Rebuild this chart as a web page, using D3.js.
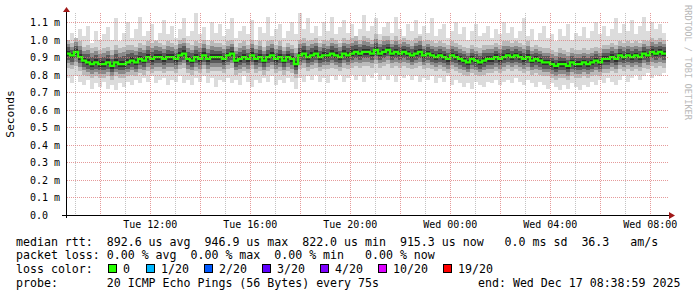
<!DOCTYPE html>
<html><head><meta charset="utf-8">
<script src="https://cdn.jsdelivr.net/npm/d3@7"></script>
<style>
html,body{margin:0;padding:0;background:#fff;}
svg{display:block;}
text{font-family:"DejaVu Sans Mono",monospace;}
</style></head>
<body>
<svg id="chart" width="697" height="297"></svg>
<script>
// ---------- DATA ----------
const startTime = new Date(2025, 11, 16, 8, 38, 59);
const endTime = new Date(2025, 11, 17, 8, 38, 59);
const yTickValues = [0, 0.1, 0.2, 0.3, 0.4, 0.5, 0.6, 0.7, 0.8, 0.9, 1.0, 1.1];
const yTickLabels = ["0.0", "0.1 m", "0.2 m", "0.3 m", "0.4 m", "0.5 m", "0.6 m", "0.7 m", "0.8 m", "0.9 m", "1.0 m", "1.1 m"];
// median rtt (ms) per consolidated step
const median = [
0.92,0.91,0.93,0.90, 0.88,0.87,0.86,0.87,0.86, 0.86,0.87,0.85,0.87,0.86,0.86,0.87,
0.88,0.87,0.89,0.88,0.90, 0.89,0.90,0.90,0.89,0.90, 0.90,0.89,0.91,0.92,0.89,
0.88,0.90,0.89,0.91,0.89,0.90,0.90, 0.90,0.89,0.91,0.92,0.88,0.89,0.90,0.89,
0.91,0.89,0.90,0.88,0.90,0.91,0.89,0.90,0.88,0.90,0.89,0.86,
0.91,0.92,0.90,0.91,0.92,0.90,0.91,0.91, 0.92,0.91,0.90,0.92,0.91,0.92,0.93,0.92,0.93,
0.93,0.92,0.94,0.92,0.93,0.94,0.92,0.93,0.92, 0.93,0.92,0.91,0.92,0.93,0.91,0.92,
0.91,0.90,0.91,0.90,0.89,0.91,0.90, 0.89,0.88,0.87,0.89,0.88,0.87,0.88,0.89,
0.89,0.90,0.89,0.90,0.91,0.90,0.91, 0.90,0.89,0.90,0.88,0.89,0.88,0.87,
0.87,0.86,0.85,0.86,0.86,0.85,0.87,0.86, 0.86,0.87,0.86,0.87,0.88,0.87,0.89,
0.89,0.90,0.89,0.91,0.90,0.91,0.90,0.91, 0.90,0.92,0.91,0.93,0.92,0.93,0.92
];
// slowest ping per step (ms)
const pingMax = [
1.00,1.04,0.99,1.06,1.02,1.08,0.98,1.05,1.00,1.03,
1.07,1.00,1.12,0.99,1.04,1.10,1.01,1.06,1.13,1.02,
1.05,1.09,1.00,1.04,1.11,1.03,1.08,1.01,1.06,1.12,
1.02,1.05,1.15,1.03,1.07,1.00,1.10,1.04,1.09,1.02,
1.06,1.12,1.01,1.05,1.08,1.03,1.11,1.00,1.07,1.04,
1.13,1.02,1.06,1.09,1.01,1.05,1.10,1.03,1.15,1.06,
1.12,1.04,1.08,1.02,1.10,1.05,1.13,1.03,1.07,1.11,
1.04,1.09,1.02,1.06,1.14,1.05,1.08,1.12,1.03,1.07,
1.10,1.04,1.13,1.06,1.02,1.09,1.05,1.11,1.03,1.08,
1.04,1.12,1.02,1.06,1.09,1.01,1.05,1.10,1.03,1.07,
1.00,1.05,1.09,1.02,1.04,1.08,1.01,1.06,1.03,1.10,
1.04,1.07,1.01,1.05,1.12,1.02,1.06,1.00,1.04,1.08,
1.01,1.03,0.99,1.06,1.02,1.09,1.00,1.04,1.02,1.07,
1.01,1.05,1.10,1.03,1.08,1.02,1.06,1.12,1.04,1.09,
1.05,1.11,1.03,1.08,1.13,1.05,1.10,1.06,1.09,1.04
];
// upper smoke band (ms)
const pingHigh = [
1.00,0.98,1.01,0.99,0.96,0.97,0.95,0.96,0.94,0.95,
0.96,0.94,0.97,0.95,0.96,0.97,0.97,0.96,0.98,0.97,
0.99,0.98,0.99,0.98,0.97,0.99,0.98,0.97,1.00,1.01,
0.98,0.97,0.99,0.98,1.00,0.97,0.99,0.98,0.98,0.97,
0.99,1.00,0.96,0.98,0.99,0.97,1.00,0.97,0.99,0.96,
0.99,1.00,0.97,0.99,0.96,0.98,0.97,0.95,1.00,1.01,
0.99,1.00,1.01,0.98,1.00,0.99,1.01,1.00,0.98,1.01,
1.00,1.01,1.02,1.00,1.02,1.01,1.00,1.03,1.00,1.02,
1.02,1.00,1.02,1.00,1.01,1.00,0.99,1.01,1.02,0.99,
1.00,0.99,0.98,0.99,0.98,0.97,0.99,0.98,0.97,0.96,
0.95,0.97,0.96,0.95,0.97,0.97,0.97,0.98,0.97,0.99,
0.99,0.98,0.99,0.98,0.97,0.99,0.96,0.97,0.96,0.95,
0.95,0.94,0.93,0.95,0.94,0.93,0.95,0.94,0.94,0.95,
0.94,0.95,0.96,0.95,0.97,0.97,0.98,0.97,0.99,0.98,
0.99,0.98,0.99,0.98,1.00,0.99,1.01,1.00,1.01,1.00
];
// lower smoke band (ms)
const pingLow = [
0.84,0.83,0.85,0.82,0.80,0.79,0.78,0.79,0.78,0.78,
0.79,0.77,0.79,0.78,0.78,0.79,0.80,0.79,0.81,0.80,
0.82,0.81,0.82,0.82,0.81,0.82,0.82,0.81,0.83,0.84,
0.81,0.80,0.82,0.81,0.83,0.81,0.82,0.82,0.82,0.81,
0.83,0.84,0.80,0.81,0.82,0.81,0.83,0.81,0.82,0.80,
0.82,0.83,0.81,0.82,0.80,0.82,0.81,0.78,0.83,0.84,
0.82,0.83,0.84,0.82,0.83,0.83,0.84,0.83,0.82,0.84,
0.83,0.84,0.85,0.84,0.85,0.85,0.84,0.86,0.84,0.85,
0.86,0.84,0.85,0.84,0.85,0.84,0.83,0.84,0.85,0.83,
0.84,0.83,0.82,0.83,0.82,0.81,0.83,0.82,0.81,0.80,
0.79,0.81,0.80,0.79,0.80,0.81,0.81,0.82,0.81,0.82,
0.83,0.82,0.83,0.82,0.81,0.82,0.80,0.81,0.80,0.79,
0.79,0.78,0.77,0.78,0.78,0.77,0.79,0.78,0.78,0.79,
0.78,0.79,0.80,0.79,0.81,0.81,0.82,0.81,0.83,0.82,
0.83,0.82,0.83,0.82,0.84,0.83,0.85,0.84,0.85,0.84
];
// fastest ping per step (ms)
const pingMin = [
0.78,0.75,0.79,0.76,0.74,0.77,0.72,0.75,0.73,0.76,
0.72,0.74,0.71,0.75,0.73,0.76,0.74,0.77,0.75,0.78,
0.76,0.79,0.75,0.77,0.78,0.74,0.77,0.76,0.79,0.75,
0.77,0.74,0.78,0.76,0.79,0.75,0.78,0.73,0.77,0.76,
0.78,0.75,0.77,0.74,0.79,0.76,0.73,0.77,0.75,0.78,
0.76,0.79,0.74,0.77,0.75,0.78,0.76,0.72,0.78,0.76,
0.79,0.77,0.80,0.76,0.78,0.75,0.79,0.77,0.80,0.76,
0.78,0.80,0.77,0.79,0.76,0.80,0.78,0.81,0.77,0.79,
0.77,0.80,0.76,0.79,0.78,0.80,0.77,0.79,0.76,0.78,
0.77,0.79,0.75,0.78,0.76,0.79,0.74,0.77,0.75,0.73,
0.75,0.72,0.76,0.74,0.73,0.76,0.75,0.77,0.74,0.76,
0.77,0.75,0.78,0.76,0.74,0.77,0.75,0.73,0.76,0.74,
0.72,0.75,0.73,0.71,0.74,0.72,0.75,0.73,0.71,0.74,
0.73,0.76,0.74,0.77,0.75,0.78,0.76,0.74,0.77,0.79,
0.76,0.78,0.80,0.77,0.79,0.81,0.78,0.80,0.79,0.81
];
const lossLabels = ["0", "1/20", "2/20", "3/20", "4/20", "10/20", "19/20"];
const lossColors = ["#26ff00", "#00b8ff", "#0059ff", "#5e00ff", "#7e00ff", "#dd00ff", "#ff0000"];
const statLine1 = "median rtt:  892.6 us avg  946.9 us max  822.0 us min  915.3 us now   0.0 ms sd  36.3   am/s";
const statLine2 = "packet loss: 0.00 % avg  0.00 % max  0.00 % min   0.00 % now";
const lossTitle = "loss color:";
const probeLine = "probe:       20 ICMP Echo Pings (56 Bytes) every 75s";
const endLine = "end: Wed Dec 17 08:38:59 2025";
const yTitle = "Seconds";
const watermark = "RRDTOOL / TOBI OETIKER";

// ---------- CHART ----------
const svg = d3.select("#chart");
const L = 66, R = 666, B = 215, TOP = 13;
const x = d3.scaleTime().domain([startTime, endTime]).range([L, R]);
const y = d3.scaleLinear().domain([0, 1.1]).range([B, 22]);
const n = median.length;
const stepMs = (endTime - startTime) / n;
const cells = median.map((m, i) => ({
  i, med: m, max: pingMax[i], hi: pingHigh[i], lo: pingLow[i], min: pingMin[i],
  t0: new Date(+startTime + i * stepMs), t1: new Date(+startTime + (i + 1) * stepMs)
}));

svg.append("defs").append("clipPath").attr("id", "plotclip")
  .append("rect").attr("x", L + 1).attr("y", TOP).attr("width", R - L - 1).attr("height", B - TOP);

const plot = svg.append("g").attr("clip-path", "url(#plotclip)");
const layers = [
  {col: "#dcdcdc", lo: d => d.min, hi: d => d.max},
  {col: "#bababa", lo: d => d.lo, hi: d => d.hi},
  {col: "#8a8a8a", lo: d => d.lo + (d.med - d.lo) * 0.3, hi: d => d.hi - (d.hi - d.med) * 0.3},
  {col: "#5a5a5a", lo: d => d.med - (d.med - d.lo) * 0.45, hi: d => d.med + (d.hi - d.med) * 0.45},
  {col: "#2e2e2e", lo: d => d.med - (d.med - d.lo) * 0.2, hi: d => d.med + (d.hi - d.med) * 0.2}
];
layers.forEach(ly => {
  plot.append("g").selectAll("rect").data(cells).join("rect")
    .attr("x", d => x(d.t0)).attr("width", d => x(d.t1) - x(d.t0))
    .attr("y", d => y(ly.hi(d))).attr("height", d => y(ly.lo(d)) - y(ly.hi(d)))
    .attr("fill", ly.col).attr("shape-rendering", "crispEdges");
});
// median line
const medPts = [];
cells.forEach(d => { medPts.push([x(d.t0), y(d.med)]); medPts.push([x(d.t1), y(d.med)]); });
plot.append("path").attr("d", d3.line()(medPts))
  .attr("fill", "none").attr("stroke", lossColors[0]).attr("stroke-width", 2.4);

// grid (drawn over graph like rrdtool)
const grid = svg.append("g").attr("shape-rendering", "crispEdges");
const hours = d3.timeHour.range(startTime, endTime);
grid.selectAll("line.v").data(hours).join("line")
  .attr("x1", d => Math.round(x(d)) + 0.5).attr("x2", d => Math.round(x(d)) + 0.5)
  .attr("y1", TOP).attr("y2", B)
  .attr("stroke", d => d.getHours() % 2 === 0 ? "rgba(220,120,120,0.75)" : "rgba(170,170,170,0.7)")
  .attr("stroke-dasharray", "1,1");
grid.selectAll("line.h").data(yTickValues.slice(1)).join("line")
  .attr("x1", L + 1).attr("x2", R + 3)
  .attr("y1", d => Math.round(y(d)) + 0.5).attr("y2", d => Math.round(y(d)) + 0.5)
  .attr("stroke", "rgba(220,120,120,0.75)").attr("stroke-dasharray", "1,1");

// axes
const yAxis = d3.axisLeft(y).tickValues(yTickValues).tickSize(0).tickPadding(0)
  .tickFormat((d, i) => yTickLabels[i]);
const ga = svg.append("g").attr("transform", `translate(${L},0)`).call(yAxis);
ga.select(".domain").remove();
ga.selectAll(".tick line").remove();
ga.selectAll("text").attr("text-anchor", "start").attr("x", 30 - L)
  .attr("dy", "0.35em").style("font-family", "DejaVu Sans Mono").style("font-size", "10px").attr("fill", "#000");

const labelTicks = hours.filter(h => h.getHours() % 4 === 0);
const xAxis = d3.axisBottom(x).tickValues(labelTicks).tickSize(0).tickPadding(0)
  .tickFormat(d3.timeFormat("%a %H:%M"));
const gx = svg.append("g").attr("transform", `translate(0,${B})`).call(xAxis);
gx.select(".domain").remove();
gx.selectAll(".tick line").remove();
gx.selectAll("text").attr("y", 13).attr("dy", 0)
  .style("font-family", "DejaVu Sans Mono").style("font-size", "10px").attr("fill", "#000");

// axis lines + arrows
const axes = svg.append("g").attr("shape-rendering", "crispEdges");
axes.append("line").attr("x1", 62).attr("x2", 670).attr("y1", B + 0.5).attr("y2", B + 0.5).attr("stroke", "#000");
axes.append("line").attr("x1", L + 0.5).attr("x2", L + 0.5).attr("y1", B + 3).attr("y2", 11).attr("stroke", "#000");
svg.append("path").attr("d", `M${L + 0.5},7 L${L + 4},12 L${L - 3},12 Z`).attr("fill", "#a01818");
svg.append("path").attr("d", `M675,${B + 0.5} L669,${B - 3} L669,${B + 4} Z`).attr("fill", "#a01818");

// y title
svg.append("text").attr("transform", "translate(14,114) rotate(-90)").attr("text-anchor", "middle")
  .style("font-size", "11.3px").text(yTitle);
// watermark
svg.append("text").attr("transform", "translate(685,5) rotate(90)").attr("text-anchor", "start")
  .style("font-size", "8.7px").attr("fill", "#b8b8b8").text(watermark);

// legend
const lg = svg.append("g").style("font-size", "11.6px").style("white-space", "pre");
lg.append("text").attr("x", 16).attr("y", 245.5).attr("xml:space", "preserve").text(statLine1);
lg.append("text").attr("x", 16).attr("y", 259).attr("xml:space", "preserve").text(statLine2);
lg.append("text").attr("x", 16).attr("y", 273).text(lossTitle);
lg.append("text").attr("x", 16).attr("y", 287).attr("xml:space", "preserve").text(probeLine);
lg.append("text").attr("x", 478).attr("y", 287).text(endLine);
const sqX = [108, 146, 204, 262, 320, 378, 443];
lossLabels.forEach((lab, i) => {
  lg.append("rect").attr("x", sqX[i] + 0.5).attr("y", 264.5).attr("width", 8).attr("height", 8)
    .attr("fill", lossColors[i]).attr("stroke", "#000").attr("stroke-width", 1);
  lg.append("text").attr("x", sqX[i] + 15).attr("y", 273).text(lab);
});
</script>
</body></html>
